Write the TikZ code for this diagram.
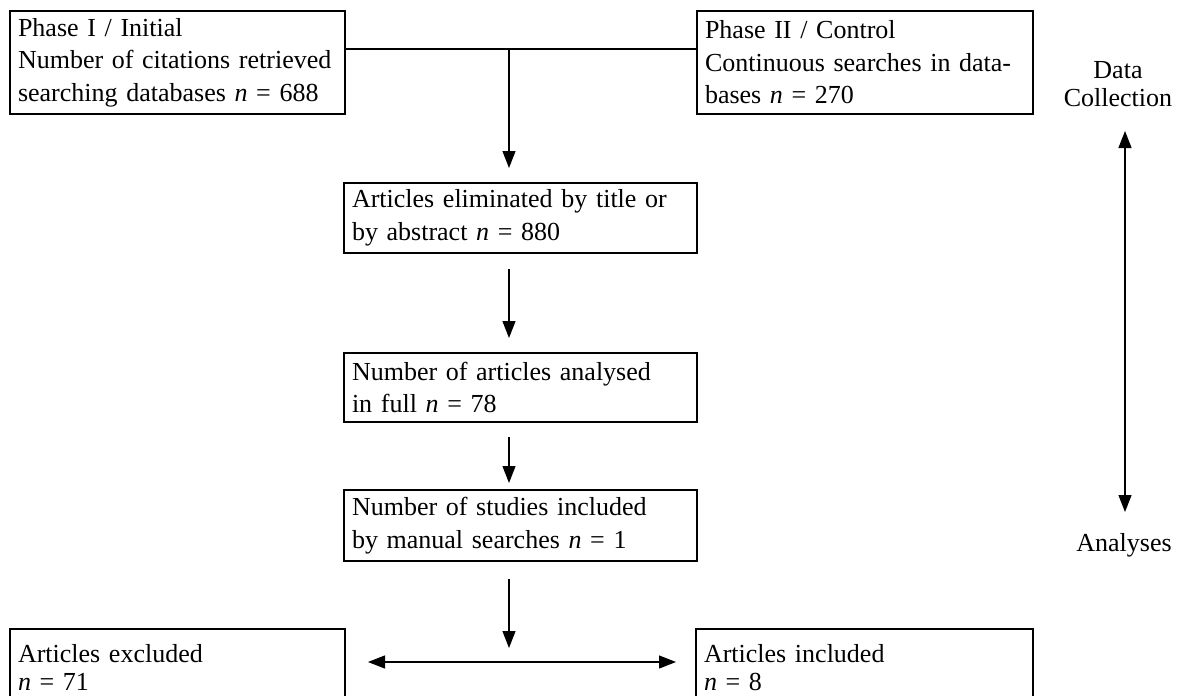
\documentclass[tikz,border=0pt]{standalone}
\usepackage{fontspec}
\setmainfont{Liberation Serif}
\usetikzlibrary{arrows.meta}
\begin{document}
\begin{tikzpicture}[x=1pt,y=-1pt,
  box/.style={draw, line width=2pt, anchor=north west, align=left, inner xsep=8pt, inner ysep=0pt, font=\fontsize{26}{32.5}\selectfont},
  lowbox/.style={box, font=\fontsize{26}{28}\selectfont},
  conn/.style={line width=1.3pt},
  arr/.style={conn, -{Triangle[length=17pt,width=13pt]}},
  darr/.style={conn, {Triangle[length=17pt,width=13pt]}-{Triangle[length=17pt,width=13pt]}},
  lbl/.style={align=center, inner sep=0pt, font=\fontsize{26}{28}\selectfont}]
\clip (0,0) rectangle (1184,696);
\fill[white] (0,0) rectangle (1184,696);
\node[box, minimum width=335pt, minimum height=103pt, text width=319pt] (A) at (9,10)
  {\mbox{Phase I / Initial}\\\mbox{Number of citations retrieved}\\\mbox{searching databases \textit{n} = 688}};
\node[box, minimum width=336pt, minimum height=103pt, text width=320pt] (B) at (696,10)
  {\mbox{Phase II / Control}\\\mbox{Continuous searches in data-}\\\mbox{bases \textit{n} = 270}};
\node[box, minimum width=353pt, minimum height=70pt, text width=337pt] (C) at (343,182)
  {\mbox{Articles eliminated by title or}\\\mbox{by abstract \textit{n} = 880}};
\node[box, minimum width=353pt, minimum height=69pt, text width=337pt] (D) at (343,352)
  {\mbox{Number of articles analysed}\\\mbox{in full \textit{n} = 78}};
\node[box, minimum width=353pt, minimum height=71pt, text width=337pt] (E) at (343,489)
  {\mbox{Number of studies included}\\\mbox{by manual searches \textit{n} = 1}};
\node[lowbox, minimum width=335pt, minimum height=77pt, text width=319pt] (F) at (9,628)
  {\mbox{Articles excluded}\\\mbox{\textit{n} = 71}};
\node[lowbox, minimum width=337pt, minimum height=77pt, text width=321pt] (G) at (695,628)
  {\mbox{Articles included}\\\mbox{\textit{n} = 8}};
\node[lbl] (dc) at (1118,84) {Data\\Collection};
\node[lbl] (an) at (1124,545) {Analyses};
\coordinate (j) at (509,49);
\coordinate (k) at (509,662);
\coordinate (vt) at (1125,131);
\coordinate (vb) at (1125,512);
\draw[conn] (A.east |- j) -- (B.west |- j);
\draw[arr, shorten >=14pt] (j) -- (j |- C.north);
\draw[arr, shorten <=15pt, shorten >=14pt] (j |- C.south) -- (j |- D.north);
\draw[arr, shorten <=14pt, shorten >=6pt] (j |- D.south) -- (j |- E.north);
\draw[arr, shorten <=17pt, shorten >=14pt] (j |- E.south) -- (k);
\draw[darr, shorten <=22pt, shorten >=19pt] (F.east |- k) -- (G.west |- k);
\draw[darr] (vt) -- (vb);
\end{tikzpicture}
\end{document}
